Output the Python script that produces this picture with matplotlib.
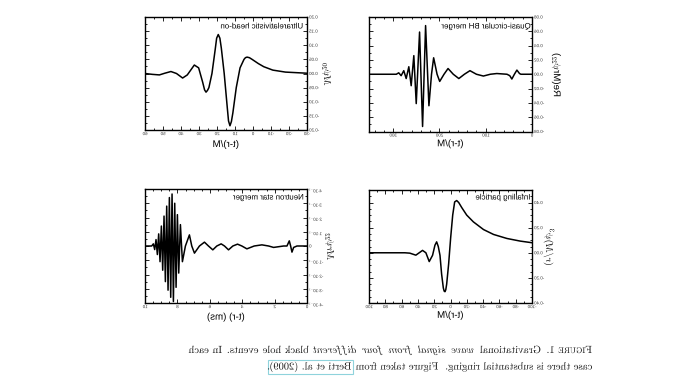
import matplotlib
matplotlib.use("Agg")
import matplotlib.pyplot as plt
import matplotlib.patheffects as pe
from matplotlib.text import Text
from matplotlib.patches import Rectangle
from matplotlib.transforms import Affine2D
from matplotlib.ticker import FixedLocator, FixedFormatter, AutoMinorLocator

plt.rcParams['font.family'] = ['Liberation Sans', 'DejaVu Sans']
plt.rcParams['mathtext.fontset'] = 'cm'

# ---- data read off the (left-right mirrored) scan ----
# ultrarelativistic head-on, x = (t-r)/M
headon_t = [60, 56, 52, 49, 45.6, 42.5, 39.1, 36.5, 32.6, 30.2, 28.0, 26.9, 26.1, 25.3, 24.5, 22.8, 21.0,
            20.2, 19.3, 18.4, 17.6, 16.0, 14.3, 13.6, 12.8, 12.0, 11.2, 9.3, 7.2, 5.0, 4.2, 3.3, 2.0, 0.5,
            -3, -6, -11, -18, -30]
headon_v = [0, -0.003, -0.005, 0.001, 0.007, 0.0, -0.016, -0.005, 0.03, 0.02, -0.03, -0.058, -0.066, -0.06,
            -0.05, 0.0, 0.085, 0.125, 0.138, 0.125, 0.09, 0.0, -0.12, -0.168, -0.185, -0.17, -0.14, -0.05,
            0.02, 0.05, 0.056, 0.058, 0.056, 0.05, 0.035, 0.024, 0.012, 0.005, 0.001]

# quasi-circular BH merger
qc_t = [350, 300, 293, 287.8, 282.6, 276.9, 271.7, 266, 260.9, 255.2, 250, 242.8, 236.3, 229.8, 222.6,
        217, 212.4, 205, 199.3, 190, 181.3, 170, 158, 146, 134, 120, 105, 90, 76, 54, 48, 43.5, 38, 32.6, 27, 24, 0]
qc_v = [0, 0, 0, 0.002, -0.002, 0.005, -0.006, 0.0105, -0.016, 0.026, -0.041, 0.059, -0.073, 0.068, -0.044,
        0, 0.023, 0, -0.010, 0, 0.008, 0, -0.006, 0, 0.005, 0, -0.0025, 0, 0.001, 0, -0.002, -0.0067, 0, 0.0058, 0.001, 0, 0]

# neutron star merger, x = (t-r) in ms, y in units of 10^-1
ns_t = [10, 9.588, 9.485, 9.402, 9.320, 9.237, 9.155, 9.072, 8.990, 8.907, 8.825, 8.742, 8.660, 8.577,
        8.495, 8.412, 8.330, 8.247, 8.165, 8.082, 8.000, 7.918, 7.814, 7.691, 7.505, 7.258, 7.113, 6.948,
        6.639, 6.330, 6.082, 5.814, 5.567, 5.299, 5.093, 4.845, 4.577, 4.289, 4.021, 3.711, 3.258, 2.784,
        2.371, 2.062, 1.443, 1.237, 1.093, 1.010, 0.928, 0.825, 0.619, 0]
ns_v = [0, 0, 0.15, -0.25, 0.45, -0.6, 0.85, -1.1, 1.4, -1.7, 2.1, -2.5, 2.8, -3.1,
        3.4, -3.6, 3.65, -3.9, 3.0, -2.9, 2.2, -1.9, 1.5, -1.1, 0, 0.78, 0, -0.5,
        0, 0.27, 0, -0.27, 0, 0.15, 0, -0.27, 0, 0.13, 0, -0.2, 0, 0.08,
        0, -0.1, 0, 0, 0.36, 0, -0.43, -0.1, 0, 0]

# infalling particle
inf_t = [100, 56, 49.9, 42.5, 38.4, 34.3, 30.2, 26.1, 22.0, 19.1, 17.0, 15.0, 12.9, 10.9, 8.8, 7.8, 6.8, 5.8,
         4.7, 2.3, -0.2, -2.7, -5.1, -7.6, -10.1, -13.8, -19.9, -28.1, -40.5, -52.8, -69.2, -85.6, -100]
inf_v = [0, 0, -0.003, -0.019, 0, 0.019, 0, -0.07, -0.02, 0.06, 0.087, 0.05, -0.02, -0.17, -0.28, -0.305, -0.31,
         -0.295, -0.25, -0.09, 0.12, 0.30, 0.405, 0.416, 0.40, 0.36, 0.30, 0.246, 0.185, 0.146, 0.114, 0.093, 0.08]

headon_xticks = [60, 50, 40, 30, 20, 10, 0, -10, -20, -30]
headon_yticks = [-0.20, -0.15, -0.10, -0.05, 0.00, 0.05, 0.10, 0.15, 0.20]
qc_xticks = [300, 200, 100, 0]
qc_yticks = [-0.08, -0.06, -0.04, -0.02, 0.00, 0.02, 0.04, 0.06, 0.08]
ns_xticks = [10, 8, 6, 4, 2, 0]
ns_yticks = [-4, -3, -2, -1, 0, 1, 2, 3, 4]
ns_ylabels = [r"-4$\cdot$10$^{-1}$", r"-3$\cdot$10$^{-1}$", r"-2$\cdot$10$^{-1}$", r"-1$\cdot$10$^{-1}$", "0",
              r"1$\cdot$10$^{-1}$", r"2$\cdot$10$^{-1}$", r"3$\cdot$10$^{-1}$", r"4$\cdot$10$^{-1}$"]
inf_xticks = [100, 80, 60, 40, 20, 0, -20, -40, -60, -80, -100]
inf_yticks = [-0.40, -0.20, 0.00, 0.20, 0.40]

W, H = 700, 381
fig = plt.figure(figsize=(7, 3.81), dpi=100)


class Mirror(pe.AbstractPathEffect):
    # the scan is flipped left-right, so every glyph is drawn flipped about its own centre
    def draw_path(self, renderer, gc, tpath, affine, rgbFace=None):
        if len(tpath.vertices) == 0:
            return
        box = tpath.get_extents(affine)
        cx = 0.5 * (box.x0 + box.x1)
        flip = Affine2D().translate(-cx, 0).scale(-1, 1).translate(cx, 0)
        renderer.draw_path(gc, tpath, affine + flip, rgbFace)


def panel(rect, t, v, xlim, ylim, xticks, xlabels, yticks, ylabels, xminor, yminor,
          title, title_xy, xlabel, xlab_y, ylabel, ylab_x):
    ax = fig.add_axes(rect)
    ax.plot(t, v, color='black', lw=1.1)
    ax.set_xlim(*xlim)
    ax.set_ylim(*ylim)
    ax.xaxis.set_major_locator(FixedLocator(xticks))
    ax.xaxis.set_major_formatter(FixedFormatter(xlabels))
    ax.yaxis.set_major_locator(FixedLocator(yticks))
    ax.yaxis.set_major_formatter(FixedFormatter(ylabels))
    ax.xaxis.set_minor_locator(AutoMinorLocator(xminor))
    ax.yaxis.set_minor_locator(AutoMinorLocator(yminor))
    ax.tick_params(which='both', direction='in', top=True, bottom=True, left=True, right=True,
                   labelleft=False, labelright=True, labelsize=3.2, pad=1.5, width=0.6,
                   labelcolor='#333333')
    ax.tick_params(which='major', length=3)
    ax.tick_params(which='minor', length=1.5)
    for s in ax.spines.values():
        s.set_linewidth(1.0)
    ax.text(title_xy[0], title_xy[1], title, transform=ax.transAxes, ha='right', va='center', fontsize=5.7)
    ax.set_xlabel(xlabel, fontsize=7)
    ax.xaxis.set_label_coords(0.5, xlab_y)
    ax.xaxis.label.set_va('center')
    ax.yaxis.set_label_position('right')
    ax.set_ylabel(ylabel, fontsize=7, rotation=90)
    ax.yaxis.set_label_coords(ylab_x, 0.5)
    ax.yaxis.label.set_rotation_mode('default')
    ax.yaxis.label.set_va('center')
    ax.yaxis.label.set_ha('center')
    return ax


panel([145 / W, (H - 130) / H, 162 / W, 113 / H], headon_t, headon_v, (60, -30), (-0.2, 0.2),
      headon_xticks, [str(x) for x in headon_xticks], headon_yticks, ["%.2f" % y for y in headon_yticks],
      2, 2, "Ultrarelativistic head-on", (0.975, 0.912), "(t-r)/M", -0.124, r"$M\psi_{20}$", 1.123)

panel([369 / W, (H - 131.5) / H, 163 / W, 114.5 / H], qc_t, qc_v, (352, 0), (-0.08, 0.08),
      qc_xticks, [str(x) for x in qc_xticks], qc_yticks, ["%.2f" % y for y in qc_yticks],
      5, 2, "Quasi-circular BH merger", (0.988, 0.913), "(t-r)/M", -0.103, r"Re(Mr$\psi_{22}$)", 1.147)

panel([145 / W, (H - 303) / H, 162 / W, 114 / H], ns_t, ns_v, (10, 0), (-4, 4),
      ns_xticks, [str(x) for x in ns_xticks], ns_yticks, ns_ylabels,
      4, 2, "Neutron star merger", (0.975, 0.921), "(t-r) (ms)", -0.12, r"$Mr\psi_{22}$", 1.142)

panel([369 / W, (H - 303) / H, 163 / W, 113 / H], inf_t, inf_v, (100, -100), (-0.4, 0.5),
      inf_xticks, [str(x) for x in inf_xticks], inf_yticks, ["%.2f" % y for y in inf_yticks],
      2, 4, "Infalling particle", (0.988, 0.929), "(t-r)/M", -0.105, r"$(r/M)\psi^3$", 1.104)

# ---- caption, laid out right-to-left because the page is mirrored ----
fig.canvas.draw()
renderer = fig.canvas.get_renderer()

rm = dict(fontfamily='cmr10', color='#1a1a1a')
it = dict(color='#1a1a1a')
# (text, size factor, style, glue after the word in spaces)
line1 = [("F", 1.0, rm, 0), ("IGURE", 0.78, rm, 1), ("1.", 1.0, rm, 1.6), ("Gravitational", 1.0, rm, 1),
         (r"$\mathit{wave}$", 1.0, it, 1), (r"$\mathit{signal}$", 1.0, it, 1), (r"$\mathit{from}$", 1.0, it, 1),
         (r"$\mathit{four}$", 1.0, it, 1), (r"$\mathit{different}$", 1.0, it, 1), ("black", 1.0, rm, 1),
         ("hole", 1.0, rm, 1), ("events.", 1.0, rm, 1.5), ("In", 1.0, rm, 1), ("each", 1.0, rm, 0)]
line2 = [("case there is substantial ringing.  Figure taken from", 1.0, rm, 1),
         ("Berti et al. (2009)", 1.0, rm, 0), (".", 1.0, rm, 0)]


def place(pieces, size, x_right, y_px, gap_px):
    x = x_right
    out = []
    for s, scale, kw, glue in pieces:
        t = fig.text(x / W, (H - y_px) / H, s, ha='right', va='baseline', fontsize=size * scale, **kw)
        out.append(t)
        x -= t.get_window_extent(renderer).width + glue * gap_px
    return out, x


def clear(texts):
    for t in texts:
        t.remove()


# first line fills the measure 188..592 with ordinary word spaces; size taken from it
base = 8
texts, x_end = place(line1, base, 592, 353, base * 0.36 * 100 / 72)
size = base * (592 - 188) / (592 - x_end)
clear(texts)
space = size * 0.36 * 100 / 72
place(line1, size, 592, 353, space)
texts2, _ = place(line2, size, 592, 369.5, space)

bb = texts2[1].get_window_extent(renderer)
fig.add_artist(Rectangle(((bb.x0 - 1.5) / W, (bb.y0 - 1.0) / H), (bb.width + 3) / W, (bb.height + 2) / H,
                         transform=fig.transFigure, fill=False, edgecolor='#8fd3dc', lw=0.8))

fig.canvas.draw()
for t in fig.findobj(Text):
    t.set_path_effects([Mirror()])

fig.savefig("out.png", dpi=100)
